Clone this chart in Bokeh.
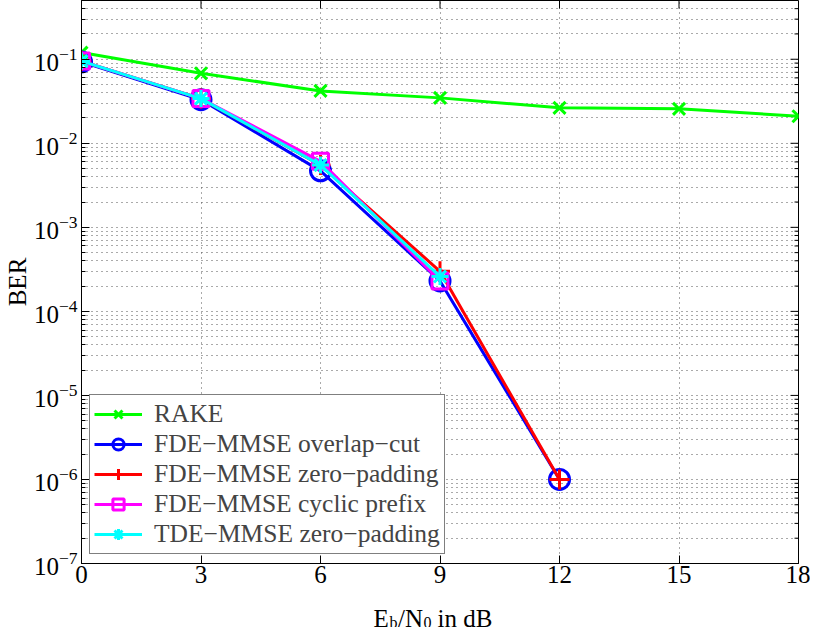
from bokeh.plotting import figure
from bokeh.models import FixedTicker, Legend, Range1d, LinearScale
from bokeh.layouts import column
from bokeh.core.properties import value
from bokeh.embed import file_html
from bokeh.resources import INLINE

# ---- data ----
snr_rake = [0, 3, 6, 9, 12, 15, 18]
ber_rake = [0.12, 0.068, 0.042, 0.0347, 0.0264, 0.0257, 0.021]

snr_oc = [0, 3, 6, 9, 12]
ber_overlap_cut = [0.093, 0.033, 0.0047, 0.00023, 1.0e-6]

snr_zp = [0, 3, 6, 9, 12]
ber_zero_padding = [0.095, 0.034, 0.0055, 0.00030, 1.0e-6]

snr_cp = [0, 3, 6, 9]
ber_cyclic_prefix = [0.095, 0.034, 0.0061, 0.00023]

snr_tde = [0, 3, 6, 9]
ber_tde = [0.095, 0.034, 0.0055, 0.00026]

x_ticks = [0, 3, 6, 9, 12, 15, 18]
y_ticks = [1e-7, 1e-6, 1e-5, 1e-4, 1e-3, 1e-2, 1e-1]

xlabel_main = ["E", "/N", "in dB"]
xlabel_sub = ["b", "0"]

FONT = "Liberation Serif"

FRAME_W = 717
FRAME_H = 563

p = figure(width=810, height=593, x_range=Range1d(0, 18), y_range=(1e-7, 0.5),
           y_axis_type="log", output_backend="svg", toolbar_location=None,
           min_border_left=81, min_border_right=12, min_border_top=0,
           min_border_bottom=30)
p.background_fill_color = "white"
p.border_fill_color = "white"
p.outline_line_color = "black"
p.outline_line_width = 1

minor = []
for e in range(-7, 0):
    for k in range(2, 10):
        v = k * 10.0 ** e
        if v <= 0.5:
            minor.append(v)

p.xaxis.ticker = FixedTicker(ticks=x_ticks)
p.yaxis.ticker = FixedTicker(ticks=y_ticks, minor_ticks=minor)

for ax in (p.xaxis[0], p.yaxis[0]):
    ax.major_tick_in = 8
    ax.major_tick_out = 0
    ax.minor_tick_in = 4
    ax.minor_tick_out = 0
    ax.major_label_text_font = FONT
    ax.major_label_text_font_size = "25px"
    ax.major_label_text_color = "black"
    ax.axis_line_color = "black"
    ax.major_tick_line_color = "black"
    ax.minor_tick_line_color = "black"
    ax.axis_label_text_font = FONT
    ax.axis_label_text_font_style = "normal"
    ax.axis_label_text_font_size = "25px"
    ax.axis_label_text_color = "black"
p.xaxis.minor_tick_line_color = None
p.xaxis.major_label_standoff = 2
p.yaxis.major_label_standoff = 4
p.yaxis.axis_label = "BER"
p.yaxis.axis_label_standoff = 0

# box ticks on top and right (drawn in unit ranges)
p.extra_x_ranges = {"ux": Range1d(0, 1)}
p.extra_x_scales = {"ux": LinearScale()}
p.extra_y_ranges = {"uy": Range1d(0, 1)}
p.extra_y_scales = {"uy": LinearScale()}
p.segment(x0=x_ticks, x1=x_ticks, y0=[1] * len(x_ticks),
          y1=[1 - 8 / FRAME_H] * len(x_ticks), y_range_name="uy",
          line_color="black", line_width=1)
p.segment(x0=[1] * len(y_ticks), x1=[1 - 8 / FRAME_W] * len(y_ticks),
          y0=y_ticks, y1=y_ticks, x_range_name="ux",
          line_color="black", line_width=1)
p.segment(x0=[1] * len(minor), x1=[1 - 4 / FRAME_W] * len(minor),
          y0=minor, y1=minor, x_range_name="ux",
          line_color="black", line_width=1)

# grids (MATLAB dotted)
p.xgrid.ticker = FixedTicker(ticks=x_ticks)
p.xgrid.grid_line_color = "#555555"
p.xgrid.grid_line_dash = "1 4"
p.ygrid.grid_line_color = "#555555"
p.ygrid.grid_line_dash = "1 4"
p.ygrid.minor_grid_line_color = "#555555"
p.ygrid.minor_grid_line_dash = "1 4"

LW = 3
series = [
    (snr_rake, ber_rake, "#00ff00", "x", 17, "RAKE"),
    (snr_oc, ber_overlap_cut, "#0000ff", "circle", 20, "FDE\u2212MMSE overlap\u2212cut"),
    (snr_zp, ber_zero_padding, "#ff0000", "cross", 20, "FDE\u2212MMSE zero\u2212padding"),
    (snr_cp, ber_cyclic_prefix, "#ff00ff", "square", 16, "FDE\u2212MMSE cyclic prefix"),
    (snr_tde, ber_tde, "#00ffff", "asterisk", 17, "TDE\u2212MMSE zero\u2212padding"),
]
items = []
for xs, ys, col, mk, sz, name in series:
    r1 = p.line(xs, ys, line_color=col, line_width=LW)
    r2 = p.scatter(xs, ys, marker=mk, size=sz, line_color=col, line_width=LW,
                   fill_color=None)
    items.append((name, [r1, r2]))

legend = Legend(items=items, location=(8, 9))
legend.label_text_font = FONT
legend.label_text_font_size = "25.5px"
legend.label_height = 28
legend.glyph_height = 28
legend.glyph_width = 48
legend.label_standoff = 12
legend.spacing = 0
legend.padding = 4
legend.margin = 0
legend.border_line_color = "black"
legend.border_line_width = 1
legend.background_fill_color = "white"
legend.background_fill_alpha = 1
p.add_layout(legend, "center")

# x-axis label strip with subscripts: E_b/N_0 in dB (shares the x range, so
# its frame is aligned with the main plot's frame by the column layout)
p2 = figure(width=810, height=34, x_range=p.x_range, y_range=Range1d(0, 34),
            output_backend="svg", toolbar_location=None, min_border=0,
            x_axis_location=None, y_axis_location=None, title=None)
p2.xgrid.visible = False
p2.ygrid.visible = False
p2.outline_line_color = None
p2.background_fill_color = "white"
p2.border_fill_color = "white"
u = 18 / FRAME_W          # data units per pixel
x0 = 7.33                 # left edge of the label, in x units
p2.text(x=[x0, x0 + 24.5 * u, x0 + 64 * u], y=[9.5, 9.5, 9.5], text=xlabel_main,
        text_font=value(FONT), text_font_size=value("25px"),
        text_color="black", text_baseline="alphabetic", text_align="left")
p2.text(x=[x0 + 16 * u, x0 + 50 * u], y=[5, 5], text=xlabel_sub,
        text_font=value(FONT), text_font_size=value("16px"),
        text_color="black", text_baseline="alphabetic", text_align="left")

layout = column(p, p2, spacing=0)
open("out.html", "w").write(file_html(layout, INLINE))
